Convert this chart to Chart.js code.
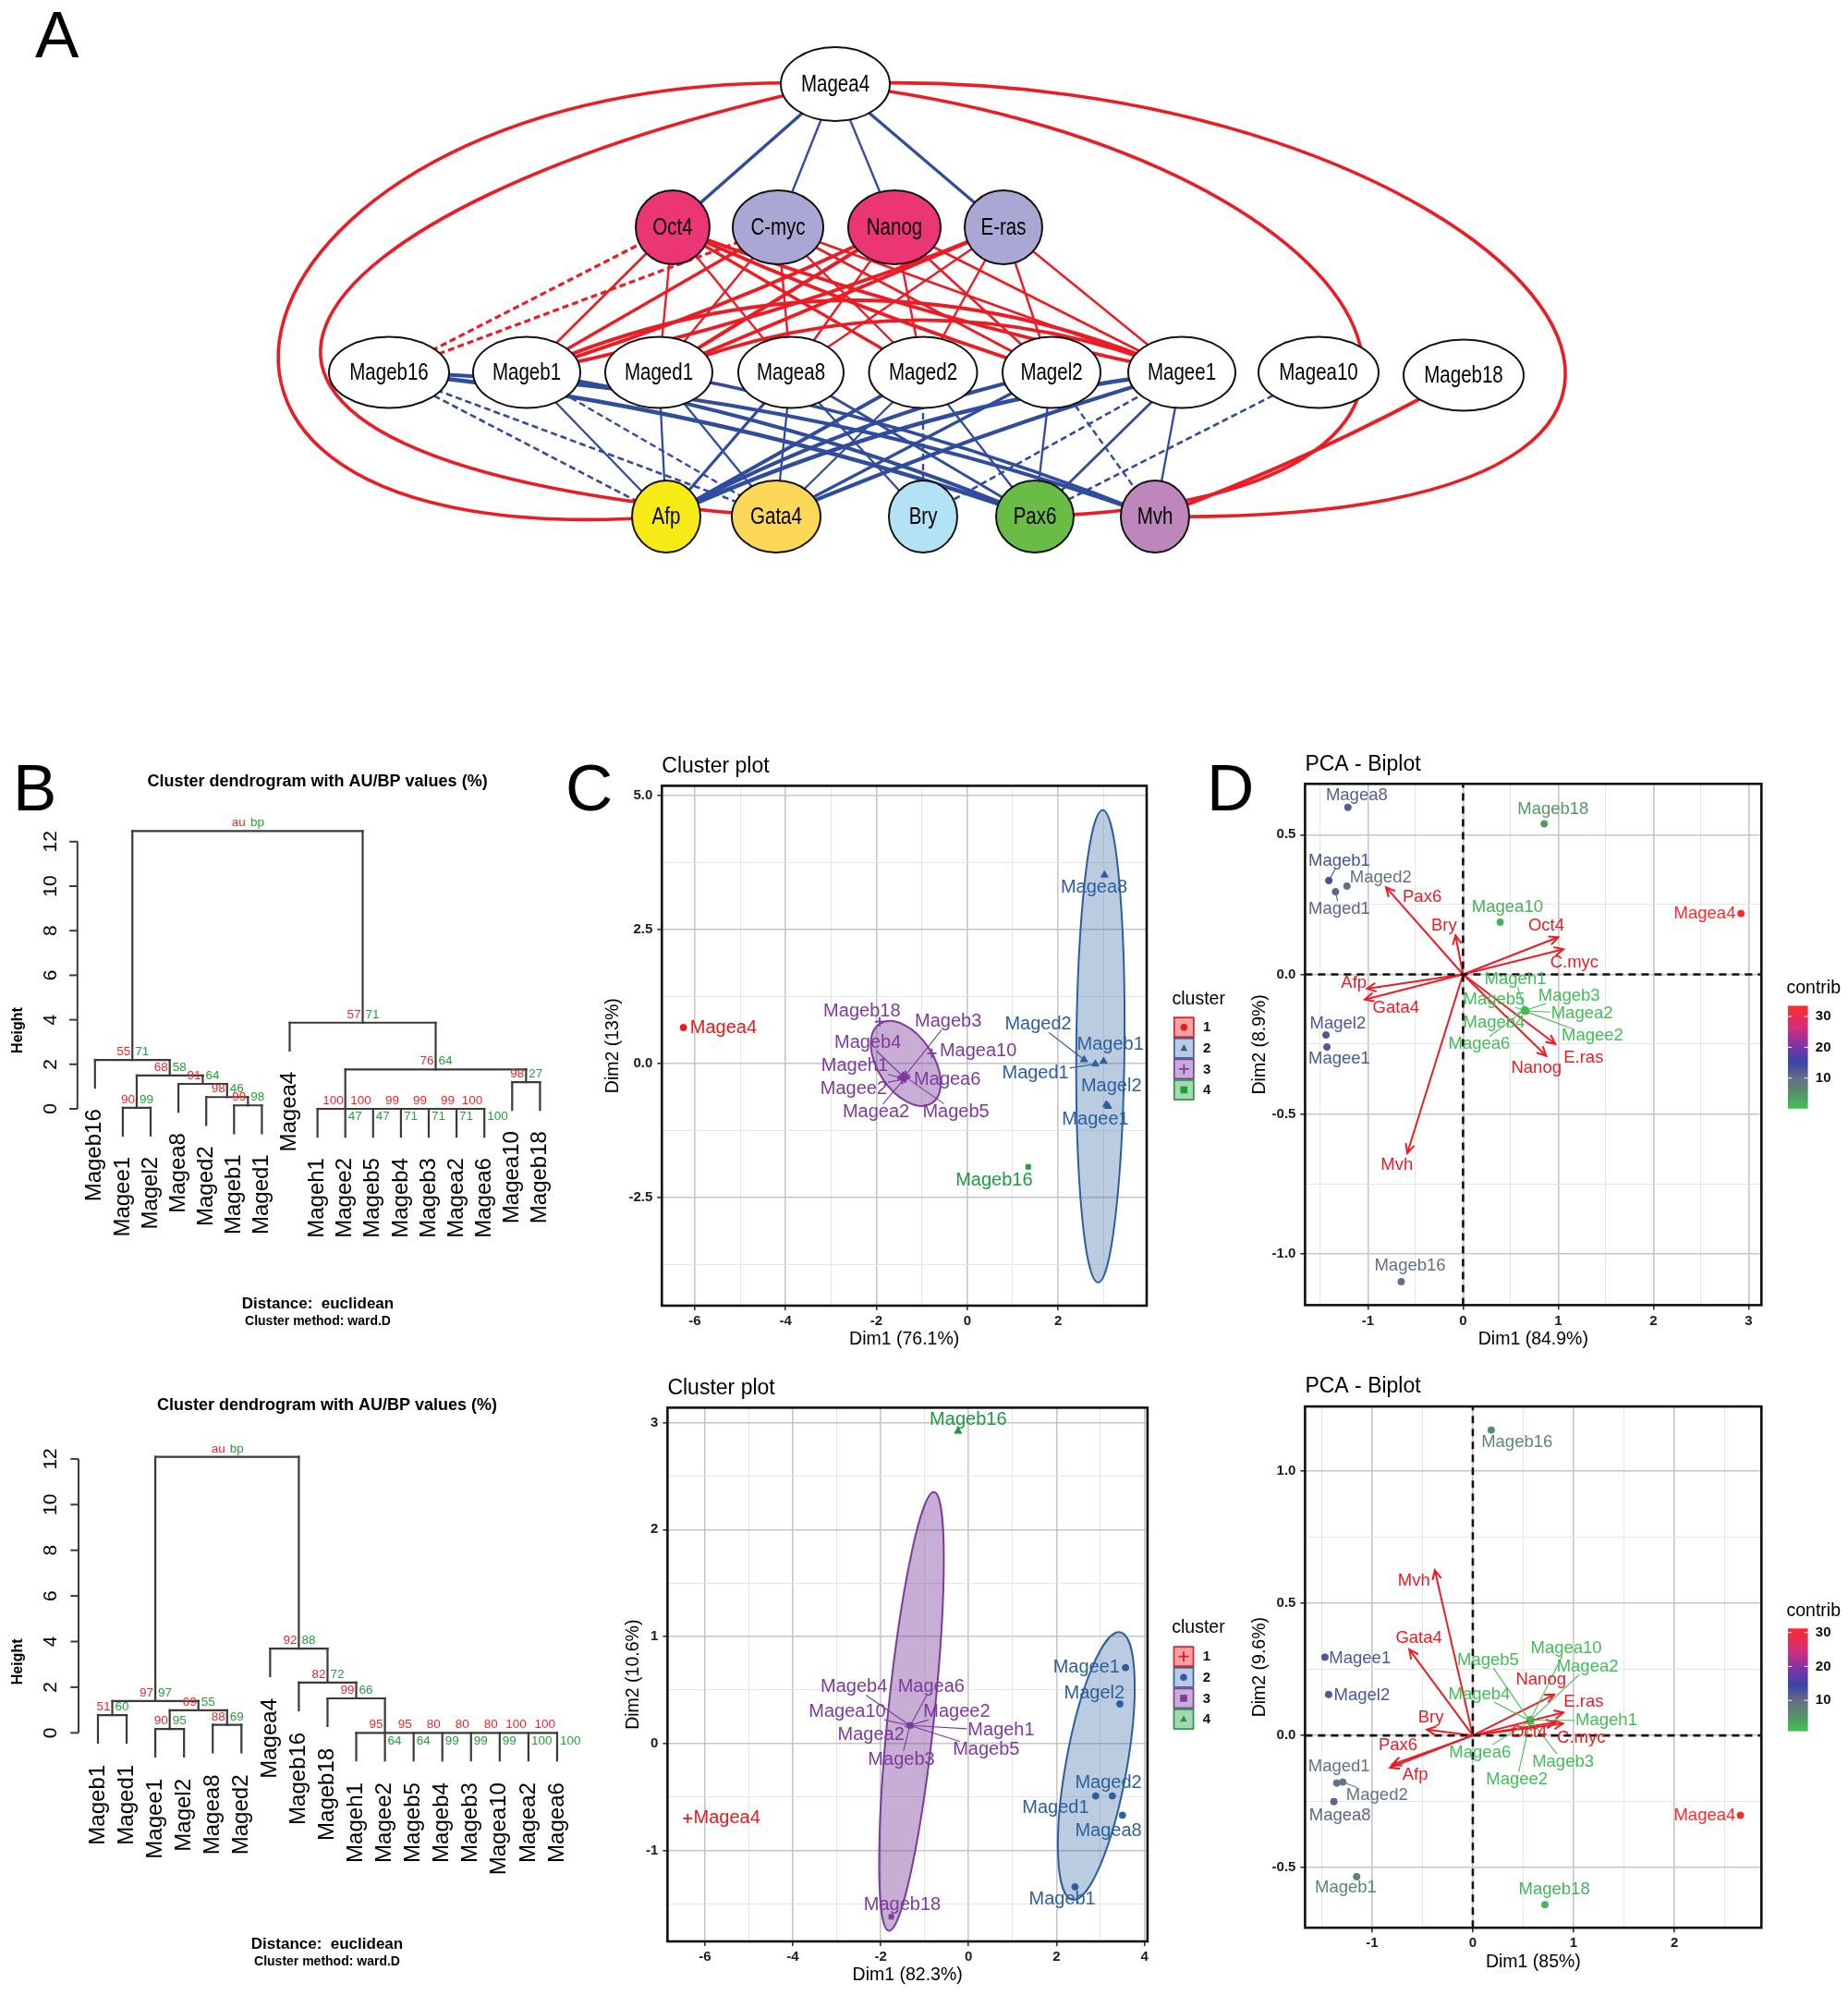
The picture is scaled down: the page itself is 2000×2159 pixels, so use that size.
<!DOCTYPE html>
<html><head><meta charset="utf-8">
<script src="https://cdn.jsdelivr.net/npm/chart.js@4.4.1/dist/chart.umd.min.js"></script>
<style>
html,body{margin:0;padding:0;background:#fff}
body{position:relative;width:2000px;height:2159px;overflow:hidden;font-family:'Liberation Sans',Arial,Helvetica,sans-serif}
canvas{position:absolute}
.lt{position:absolute;font-size:71px;line-height:71px;color:#000;font-family:'Liberation Sans',Arial,sans-serif}
</style></head><body>
<div class="lt" style="left:38px;top:2px">A</div>
<div class="lt" style="left:14px;top:817px">B</div>
<div class="lt" style="left:612px;top:817px">C</div>
<div class="lt" style="left:1306px;top:817px">D</div>
<canvas id="cA" width="2000" height="650" style="left:0;top:0"></canvas>
<canvas id="cB1" width="620" height="630" style="left:0;top:820px"></canvas>
<canvas id="cB2" width="640" height="669" style="left:0;top:1490px"></canvas>
<canvas id="cC1" width="700" height="655" style="left:640px;top:805px"></canvas>
<canvas id="cC2" width="700" height="674" style="left:640px;top:1485px"></canvas>
<canvas id="cD1" width="680" height="655" style="left:1320px;top:805px"></canvas>
<canvas id="cD2" width="680" height="674" style="left:1320px;top:1485px"></canvas>
<script>
const FONT = "'Liberation Sans', Arial, sans-serif";
Chart.defaults.font.family = FONT;

/* ================= DATA ================= */
// ---- Panel A: network (layout units) ----
const netNames = ['Magea4','Oct4','C-myc','Nanog','E-ras','Mageb16','Mageb1','Maged1','Magea8','Maged2','Magel2','Magee1','Magea10','Mageb18','Afp','Gata4','Bry','Pax6','Mvh'];
const netX = [904,728,842,968,1086,421,570,713,856,999,1138,1279,1427,1584,721,840,999,1120,1250];
const netY = [91,246,246,246,246,403,403,403,403,403,403,403,403,406,559,559,559,559,559];
// edges: from, to, sign (r = positive, b = negative), dashed, weight, curvature
const netEdges = [
 ['Magea4','Oct4','b',0,3.6,0],['Magea4','C-myc','b',0,2.3,0],['Magea4','Nanog','b',0,2.3,0],['Magea4','E-ras','b',0,3.2,0],
 ['Mageb16','Afp','b',1,2.6,0],['Mageb16','Gata4','b',1,2.6,0],['Mageb16','Pax6','b',0,4.3,-0.06],['Mageb16','Mvh','b',0,3.8,-0.08],
 ['Mageb1','Afp','b',0,2.3,0],['Mageb1','Gata4','b',1,2.4,0],['Mageb1','Pax6','b',0,4.3,-0.06],
 ['Maged1','Afp','b',0,2.3,0],['Maged1','Gata4','b',0,2.3,0],['Maged1','Mvh','b',0,3.4,-0.05],
 ['Magea8','Afp','b',0,3.2,0],['Magea8','Gata4','b',0,2.3,0],['Magea8','Bry','b',0,2.3,0],['Magea8','Pax6','b',0,2.8,0],
 ['Maged2','Afp','b',0,3.8,0],['Maged2','Gata4','b',0,2.3,0],['Maged2','Bry','b',1,2.4,0],['Maged2','Pax6','b',0,2.3,0],
 ['Magel2','Afp','b',0,4.3,-0.07],['Magel2','Gata4','b',0,3.2,0],['Magel2','Pax6','b',0,2.3,0],['Magel2','Mvh','b',1,2.4,0],
 ['Magee1','Afp','b',0,4.3,-0.08],['Magee1','Gata4','b',0,4.3,-0.03],['Magee1','Bry','b',1,2.6,0],['Magee1','Pax6','b',0,2.8,0],['Magee1','Mvh','b',0,2.3,0],
 ['Magea10','Pax6','b',1,2.6,0],
 ['Oct4','Mageb16','r',1,3.2,0],['C-myc','Mageb16','r',1,3.2,0],
 ['Oct4','Mageb1','r',0,2.6,0],['Oct4','Maged1','r',0,2.4,0],['Oct4','Magea8','r',0,2.4,0],['Oct4','Maged2','r',0,3.2,0],['Oct4','Magel2','r',0,4,0.03],['Oct4','Magee1','r',0,4,0.04],
 ['C-myc','Mageb1','r',0,3.4,0],['C-myc','Maged1','r',0,2.4,0],['C-myc','Magea8','r',0,2.4,0],['C-myc','Maged2','r',0,2.4,0],['C-myc','Magel2','r',0,3,0],['C-myc','Magee1','r',0,2.6,0],
 ['Nanog','Mageb1','r',0,4,0.04],['Nanog','Maged1','r',0,4,0],['Nanog','Magea8','r',0,2.4,0],['Nanog','Maged2','r',0,2.4,0],['Nanog','Magel2','r',0,2.6,0],['Nanog','Magee1','r',0,2.6,0],
 ['E-ras','Mageb1','r',0,4,0.05],['E-ras','Maged1','r',0,4,0],['E-ras','Magea8','r',0,2.4,0],['E-ras','Maged2','r',0,2.4,0],['E-ras','Magel2','r',0,2.4,0],['E-ras','Magee1','r',0,2.4,0],
 ['Mageb1','Magee1','r',0,4.2,-0.22],['Maged1','Magee1','r',0,3.6,-0.2],
 ['Mageb18','Mvh','r',0,3.8,0.04]
];
// long positive arcs from Magea4: from, to, control point 1 (x,y), control point 2 (x,y)
const netArcs = [
 ['Magea4','Afp',250,60,40,610],
 ['Magea4','Gata4',300,220,60,500],
 ['Magea4','Mvh',1620,60,2080,570],
 ['Magea4','Pax6',1500,160,1720,540]
];

// ---- Panel B: dendrograms ----
const dendroTicks = [0,2,4,6,8,10,12];
const dendroTopLeaves = ['Mageb16','Magee1','Magel2','Magea8','Maged2','Mageb1','Maged1','Magea4','Mageh1','Magee2','Mageb5','Mageb4','Mageb3','Magea2','Magea6','Magea10','Mageb18'];
const dendroTopMerges = [[5,6],[4,'m0'],[3,'m1'],[1,2],['m3','m2'],[0,'m4'],[8,9,10,11,12,13,14],[15,16],['m6','m7'],[7,'m8'],['m5','m9']];
const dendroTopHeights = [0.155,0.53,1.12,0.05,1.50,2.19,0.0,1.20,1.77,3.87,12.47];
const dendroTopAU = [99,98,91,90,68,55,[100,100,99,99,99,100],98,76,57,'au'];
const dendroTopBP = [98,46,64,99,58,71,[47,47,71,71,71,100],27,64,71,'bp'];

const dendroBotLeaves = ['Mageb1','Maged1','Magee1','Magel2','Magea8','Maged2','Magea4','Mageb16','Mageb18','Mageh1','Magee2','Mageb5','Mageb4','Mageb3','Magea10','Magea2','Magea6'];
const dendroBotMerges = [[0,1],[2,3],[4,5],['m1','m2'],['m0','m3'],[9,10,11,12,13,14,15,16],[8,'m5'],[7,'m6'],[6,'m7'],['m4','m8']];
const dendroBotHeights = [0.78,0.17,0.35,0.99,1.39,0.0,1.51,2.20,3.69,12.09];
const dendroBotAU = [51,90,88,69,97,[95,95,80,80,80,100,100],99,82,92,'au'];
const dendroBotBP = [60,95,69,55,97,[64,64,99,99,99,100,100],66,72,88,'bp'];

// ---- Panel C (top): cluster plot ----
const c1Names = ['Magea4','Magea8','Mageb1','Maged2','Maged1','Magel2','Magee1','Mageb18','Mageb3','Mageb4','Magea10','Mageh1','Magea6','Magee2','Magea2','Mageb5','Mageb16'];
const c1Cluster = [1,2,2,2,2,2,2,3,3,3,3,3,3,3,3,3,4];
const c1X = [-6.25,3.02,3.00,2.57,2.82,3.06,3.10,-1.93,-1.36,-1.42,-0.78,-1.44,-1.40,-1.43,-1.38,-1.35,1.34];
const c1Y = [0.67,3.52,0.04,0.07,-0.01,-0.77,-0.80,0.78,-0.22,-0.24,0.19,-0.27,-0.25,-0.30,-0.28,-0.26,-1.93];
const c1LabX = [-5.37,2.79,3.15,1.56,1.50,3.17,2.82,-2.32,-0.42,-2.19,0.24,-2.48,-0.44,-2.50,-2.01,-0.25,0.59];
const c1LabY = [0.67,3.29,0.36,0.73,-0.19,-0.43,-1.04,0.97,0.78,0.39,0.23,-0.05,-0.30,-0.47,-0.91,-0.91,-2.19];
const c1Seg = [0,0,0,1,1,0,0,0,1,1,0,1,0,1,1,1,0];
const c1XTicks = [-6,-5,-4,-3,-2,-1,0,1,2,3];
const c1YTicks = [-3.75,-2.5,-1.25,0,1.25,2.5,3.75,5];
const c1EllCluster = [3,2];
const c1EllC = [[-1.355,0.0],[2.93,0.32]];
const c1EllU = [[0.575,-0.74],[0.05,4.41]];
const c1EllV = [[0.51,0.285],[0.53,0.0]];

// ---- Panel C (bottom) ----
const c2Names = ['Magea4','Mageb16','Mageb18','Mageb4','Magea6','Magea10','Magee2','Mageh1','Magea2','Mageb5','Mageb3','Magee1','Magel2','Maged2','Maged1','Magea8','Mageb1'];
const c2Cluster = [1,4,3,3,3,3,3,3,3,3,3,2,2,2,2,2,2];
const c2X = [-6.39,-0.24,-1.76,-1.34,-1.32,-1.335,-1.325,-1.33,-1.335,-1.328,-1.332,3.57,3.44,3.27,2.89,3.50,2.42];
const c2Y = [-0.70,2.92,-1.62,0.17,0.172,0.168,0.171,0.169,0.17,0.167,0.173,0.71,0.37,-0.49,-0.49,-0.67,-1.34];
const c2LabX = [-5.50,-0.01,-1.51,-2.61,-0.85,-2.76,-0.27,0.74,-2.22,0.40,-1.53,2.68,2.86,3.18,1.98,3.18,2.13];
const c2LabY = [-0.70,3.03,-1.51,0.53,0.53,0.30,0.30,0.12,0.08,-0.06,-0.15,0.71,0.47,-0.37,-0.60,-0.82,-1.46];
const c2Seg = [0,0,0,1,1,1,1,1,1,1,1,0,0,0,0,0,0];
const c2XTicks = [-6,-5,-4,-3,-2,-1,0,1,2,3,4];
const c2YTicks = [-1.5,-1,-0.5,0,0.5,1,1.5,2,2.5,3];
const c2EllCluster = [3,2];
const c2EllC = [[-1.30,0.30],[2.905,-0.21]];
const c2EllU = [[0.515,2.05],[0.545,1.25]];
const c2EllV = [[0.525,-0.02],[0.683,-0.05]];

// ---- Panel D (top): PCA biplot ----
const d1Ind = ['Magea4','Magea8','Mageb18','Mageb1','Maged2','Maged1','Magea10','Magel2','Magee1','Mageb16','Mageh1','Mageb5','Mageb3','Magea2','Magee2','Mageb4','Magea6'];
const d1IndX = [2.92,-1.21,0.853,-1.41,-1.22,-1.34,0.39,-1.44,-1.43,-0.65,0.645,0.648,0.655,0.66,0.652,0.646,0.65];
const d1IndY = [0.218,0.598,0.539,0.336,0.316,0.296,0.187,-0.217,-0.26,-1.10,-0.128,-0.13,-0.129,-0.131,-0.132,-0.13,-0.127];
const d1Contrib = [33.45,11.8,4.4,13.4,9,11,2.1,12.7,12.7,9.4,0.8,0.8,0.8,0.8,0.8,0.8,0.8];
const d1IndLabX = [2.54,-1.117,0.946,-1.30,-0.865,-1.30,0.466,-1.316,-1.30,-0.557,0.55,0.326,1.115,1.25,1.36,0.326,0.17];
const d1IndLabY = [0.218,0.641,0.59,0.404,0.345,0.234,0.241,-0.178,-0.303,-1.045,-0.017,-0.09,-0.077,-0.14,-0.221,-0.173,-0.25];
const d1IndSeg = [0,0,0,1,0,1,0,0,0,0,1,1,1,1,1,1,1];
const d1Var = ['Pax6','Bry','Oct4','C.myc','Afp','Gata4','E.ras','Nanog','Mvh'];
const d1VarX = [-0.81,-0.08,1.0,1.055,-1.01,-1.033,0.97,0.874,-0.586];
const d1VarY = [0.312,0.14,0.133,0.09,-0.051,-0.09,-0.249,-0.292,-0.64];
const d1VarLabX = [-0.43,-0.20,0.874,1.17,-1.147,-0.705,1.266,0.77,-0.696];
const d1VarLabY = [0.277,0.175,0.174,0.043,-0.03,-0.122,-0.30,-0.334,-0.682];
const d1XTicks = [-1.5,-1,-0.5,0,0.5,1,1.5,2,2.5,3];
const d1YTicks = [-1,-0.75,-0.5,-0.25,0,0.25,0.5];
const d1ContribRange = [0.1,33.45];
const d1ContribTicks = [10,20,30];

// ---- Panel D (bottom) ----
const d2Ind = ['Magea4','Mageb16','Magee1','Magel2','Maged1','Maged2','Magea8','Mageb1','Mageb18','Magea10','Mageb5','Magea2','Mageb4','Mageh1','Magea6','Mageb3','Magee2'];
const d2IndX = [2.655,0.183,-1.467,-1.43,-1.35,-1.29,-1.378,-1.152,0.716,0.572,0.566,0.574,0.565,0.571,0.567,0.57,0.568];
const d2IndY = [-0.302,1.155,0.296,0.155,-0.18,-0.176,-0.25,-0.534,-0.64,0.06,0.055,0.058,0.056,0.057,0.054,0.059,0.055];
const d2Contrib = [31.2,6,12.4,12.4,9,9,10.9,7,2.4,1.5,1.5,1.5,1.5,1.5,1.5,1.5,1.5];
const d2IndLabX = [2.30,0.438,-1.12,-1.10,-1.327,-0.95,-1.318,-1.26,0.808,0.927,0.151,1.138,0.064,1.325,0.072,0.895,0.438];
const d2IndLabY = [-0.302,1.107,0.29,0.15,-0.117,-0.226,-0.302,-0.577,-0.584,0.33,0.284,0.26,0.155,0.057,-0.064,-0.099,-0.167];
const d2IndSeg = [0,0,0,0,0,1,0,0,0,1,1,1,1,1,1,1,1];
const d2Var = ['Mvh','Gata4','Bry','Pax6','Afp','Nanog','E.ras','C.myc','Oct4'];
const d2VarX = [-0.377,-0.63,-0.456,-0.80,-0.822,0.808,0.899,0.895,0.82];
const d2VarY = [0.625,0.325,0.022,-0.11,-0.122,0.155,0.087,0.045,0.049];
const d2VarLabX = [-0.583,-0.535,-0.416,-0.742,-0.571,0.676,1.10,1.075,0.557];
const d2VarLabY = [0.584,0.368,0.067,-0.037,-0.148,0.211,0.128,-0.011,0.012];
const d2XTicks = [-1.5,-1,-0.5,0,0.5,1,1.5,2,2.5];
const d2YTicks = [-0.5,-0.25,0,0.25,0.5,0.75,1];
const d2ContribRange = [0.9,31.2];
const d2ContribTicks = [10,20,30];

/* ================= STYLE HELPERS ================= */
const RED = '#EC1C24', BLUE = '#2F4C9E';
const clusterColors = ['#E41A1C','#2D5F9E','#7D3B9B','#1F9B3F'];
const clusterAlpha = [0.4,0.32,0.42,0.4];
const contribStops = [[0,'#40C454'],[0.15,'#57906A'],[0.3,'#656C88'],[0.45,'#3844A8'],[0.6,'#7A34A8'],[0.78,'#D02E7E'],[1,'#FF2A2A']];
function hexRgb(h){return [parseInt(h.slice(1,3),16),parseInt(h.slice(3,5),16),parseInt(h.slice(5,7),16)];}
function hexA(h,a){const c=hexRgb(h);return `rgba(${c[0]},${c[1]},${c[2]},${a})`;}
function contribColorF(f){
  f=Math.max(0,Math.min(1,f));
  for(let i=1;i<contribStops.length;i++){
    if(f<=contribStops[i][0]){
      const [f0,c0]=contribStops[i-1],[f1,c1]=contribStops[i];
      const t=(f-f0)/(f1-f0), a=hexRgb(c0), b=hexRgb(c1);
      return `rgb(${a.map((x,j)=>Math.round(x+(b[j]-x)*t)).join(',')})`;
    }
  }
  return contribStops[contribStops.length-1][1];
}
function baseOpts(){return {responsive:false,animation:false,devicePixelRatio:1,events:[],plugins:{legend:{display:false},tooltip:{enabled:false}}};}
function near(v,step){return Math.abs(v/step-Math.round(v/step))<1e-9;}
function axisCfg(min,max,ticks,majorStep,fmt,fit,isX){
  const maj=c=>c.tick?near(c.tick.value,majorStep):true;
  return {type:'linear',min,max,
    afterBuildTicks:s=>{s.ticks=ticks.map(v=>({value:v}));},
    ticks:{autoSkip:false,maxRotation:0,minRotation:0,padding:isX?3:5,color:'#1c1c1c',font:{size:15,weight:'bold'},
      callback:v=>near(v,majorStep)?fmt(v):''},
    grid:{color:c=>maj(c)?'#c6c6c6':'#e6e6e6',lineWidth:c=>maj(c)?1.6:1.1,
      tickColor:c=>maj(c)?'#333':'rgba(0,0,0,0)',tickLength:5,drawTicks:true},
    border:{display:false},
    afterFit:s=>{if(isX)s.height=fit;else s.width=fit;}
  };
}
function drawShape(ctx,shape,x,y,r,col){
  ctx.save();ctx.fillStyle=col;ctx.strokeStyle=col;ctx.lineWidth=1.8;ctx.beginPath();
  if(shape==='circle'){ctx.arc(x,y,r,0,Math.PI*2);ctx.fill();}
  else if(shape==='rect'){ctx.fillRect(x-r,y-r,2*r,2*r);}
  else if(shape==='triangle'){ctx.moveTo(x,y-r*1.15);ctx.lineTo(x+r,y+r*0.75);ctx.lineTo(x-r,y+r*0.75);ctx.closePath();ctx.fill();}
  else if(shape==='cross'){ctx.moveTo(x-r,y);ctx.lineTo(x+r,y);ctx.moveTo(x,y-r);ctx.lineTo(x,y+r);ctx.stroke();}
  ctx.restore();
}
function drawLabels(ctx,xs,ys,names,X,Y,LX,LY,SEG,colors,fontPx){
  ctx.font=`${fontPx}px ${FONT}`;ctx.textAlign='center';ctx.textBaseline='middle';
  names.forEach((n,i)=>{
    const lx=xs.getPixelForValue(LX[i]), ly=ys.getPixelForValue(LY[i]), col=colors[i];
    if(SEG[i]){
      const px=xs.getPixelForValue(X[i]), py=ys.getPixelForValue(Y[i]);
      const w=ctx.measureText(n).width/2+1, h=fontPx*0.45;
      const dx=px-lx, dy=py-ly;
      const t=Math.min(Math.abs(dx)>1e-6?w/Math.abs(dx):Infinity,Math.abs(dy)>1e-6?h/Math.abs(dy):Infinity);
      if(t<1){ctx.strokeStyle=col;ctx.lineWidth=1.1;ctx.beginPath();ctx.moveTo(lx+dx*t,ly+dy*t);ctx.lineTo(px,py);ctx.stroke();}
    }
    ctx.fillStyle=col;ctx.fillText(n,lx,ly);
  });
}
function drawFrameTitles(ctx,ca,title,xt,yt,yOff){
  ctx.save();
  ctx.strokeStyle='#111';ctx.lineWidth=2.6;ctx.strokeRect(ca.left,ca.top,ca.right-ca.left,ca.bottom-ca.top);
  ctx.fillStyle='#000';ctx.font=`23px ${FONT}`;ctx.textAlign='left';ctx.textBaseline='middle';
  ctx.fillText(title,ca.left,ca.top-21);
  ctx.font=`19.5px ${FONT}`;ctx.textAlign='center';
  ctx.fillText(xt,(ca.left+ca.right)/2,ca.bottom+37);
  ctx.translate(ca.left-yOff,(ca.top+ca.bottom)/2);ctx.rotate(-Math.PI/2);ctx.fillText(yt,0,0);
  ctx.restore();
}

/* ================= PANEL A ================= */
const netRx = [59,40,49,50,42,65,58,58,57,58.5,53,58,65,65,37,48,37,42,37];
const netRy = [40,40,40,40,40,38.5,38.5,38.5,38.5,38.5,38.5,38.5,38.5,38.5,39,39,39,39,39];
const netFill = ['#ffffff','#EC3575','#ABA7D4','#EC3575','#ABA7D4','#ffffff','#ffffff','#ffffff','#ffffff','#ffffff','#ffffff','#ffffff','#ffffff','#ffffff','#F6EB16','#FDD757','#B3E2F5','#69BC45','#BD87BC'];
const netPlugin = {
  id:'net',
  beforeDatasetsDraw(chart){
    const {ctx,scales:{x,y}}=chart;
    const P=n=>{const i=netNames.indexOf(n);return [x.getPixelForValue(netX[i]),y.getPixelForValue(netY[i])];};
    ctx.save();ctx.lineCap='butt';
    const drawEdge=e=>{
      const [a,b,c,dash,w,bend]=e;const p=P(a),q=P(b);
      const mx=(p[0]+q[0])/2,my=(p[1]+q[1])/2,dx=q[0]-p[0],dy=q[1]-p[1],len=Math.hypot(dx,dy);
      let nx=-dy/len,ny=dx/len;if(ny<0||(ny===0&&nx<0)){nx=-nx;ny=-ny;}
      ctx.beginPath();ctx.moveTo(p[0],p[1]);
      if(bend)ctx.quadraticCurveTo(mx+nx*bend*len,my+ny*bend*len,q[0],q[1]);else ctx.lineTo(q[0],q[1]);
      ctx.strokeStyle=c==='r'?RED:BLUE;ctx.lineWidth=w;ctx.setLineDash(dash?[7,4]:[]);ctx.stroke();
    };
    netEdges.filter(e=>e[2]==='b').forEach(drawEdge);
    netEdges.filter(e=>e[2]==='r').forEach(drawEdge);
    ctx.setLineDash([]);
    netArcs.forEach(a=>{
      const p=P(a[0]),q=P(a[1]);
      ctx.beginPath();ctx.moveTo(p[0],p[1]);
      ctx.bezierCurveTo(x.getPixelForValue(a[2]),y.getPixelForValue(a[3]),x.getPixelForValue(a[4]),y.getPixelForValue(a[5]),q[0],q[1]);
      ctx.strokeStyle=RED;ctx.lineWidth=3.6;ctx.stroke();
    });
    ctx.restore();
  },
  afterDatasetsDraw(chart){
    const {ctx,scales:{x,y}}=chart;
    ctx.save();
    netNames.forEach((n,i)=>{
      const px=x.getPixelForValue(netX[i]),py=y.getPixelForValue(netY[i]);
      ctx.beginPath();ctx.ellipse(px,py,netRx[i],netRy[i],0,0,Math.PI*2);
      ctx.fillStyle=netFill[i];ctx.fill();ctx.strokeStyle='#111';ctx.lineWidth=2;ctx.stroke();
      ctx.save();ctx.translate(px,py+1);ctx.scale(0.82,1);
      ctx.fillStyle='#000';ctx.font=`25px ${FONT}`;ctx.textAlign='center';ctx.textBaseline='middle';
      ctx.fillText(n,0,0);ctx.restore();
    });
    ctx.restore();
  }
};
new Chart(document.getElementById('cA'),{
  type:'scatter',
  data:{datasets:[{data:netNames.map((n,i)=>({x:netX[i],y:netY[i]})),pointRadius:0}]},
  options:Object.assign(baseOpts(),{layout:{padding:0},
    scales:{x:{type:'linear',display:false,min:0,max:2000},y:{type:'linear',display:false,min:0,max:650,reverse:true}}}),
  plugins:[netPlugin]
});

/* ================= PANEL B ================= */
function dendroChart(id,leaves,merges,heights,AU,BP,L){
  const hang=0.1*Math.max(...heights);
  const pos=[],leafBottom=[],datasets=[],nodeLabels=[];
  const refX=r=>typeof r==='number'?r:pos[+r.slice(1)];
  const refH=(r,h)=>typeof r==='number'?h-hang:heights[+r.slice(1)];
  const seg=(a,b)=>datasets.push({data:[{x:a[0],y:a[1]},{x:b[0],y:b[1]}],showLine:true,borderColor:'#3a3a3a',borderWidth:2.2,pointRadius:0,borderCapStyle:'square'});
  merges.forEach((ch,k)=>{
    const h=heights[k],xs=ch.map(refX);
    pos[k]=ch.length===2?(xs[0]+xs[1])/2:xs[1];
    seg([xs[0],h],[xs[xs.length-1],h]);
    ch.forEach((c,j)=>{const hb=refH(c,h);if(typeof c==='number')leafBottom[c]=hb;seg([xs[j],h],[xs[j],hb]);});
    if(ch.length===2)nodeLabels.push({x:pos[k],h,au:AU[k],bp:BP[k],flat:false});
    else xs.slice(1).forEach((xx,j)=>nodeLabels.push({x:xx,h,au:AU[k][j],bp:BP[k][j],flat:true}));
  });
  const plug={
    id:'dendro'+id,
    afterDatasetsDraw(chart){
      const {ctx,scales:{x,y}}=chart;
      ctx.save();ctx.fillStyle='#000';
      ctx.font=`bold 18px ${FONT}`;ctx.textAlign='center';ctx.textBaseline='middle';
      ctx.fillText('Cluster dendrogram with AU/BP values (%)',L.titleX,L.titleY);
      ctx.strokeStyle='#3a3a3a';ctx.lineWidth=2;
      ctx.beginPath();ctx.moveTo(L.axisX,y.getPixelForValue(0));ctx.lineTo(L.axisX,y.getPixelForValue(12));ctx.stroke();
      ctx.font=`21px ${FONT}`;
      dendroTicks.forEach(t=>{
        const py=y.getPixelForValue(t);
        ctx.beginPath();ctx.moveTo(L.axisX,py);ctx.lineTo(L.axisX-8.7,py);ctx.stroke();
        ctx.save();ctx.translate(L.tickLabX,py);ctx.rotate(-Math.PI/2);ctx.fillText(String(t),0,0);ctx.restore();
      });
      ctx.save();ctx.font=`bold 16px ${FONT}`;ctx.translate(L.hLabX,L.hLabY);ctx.rotate(-Math.PI/2);ctx.fillText('Height',0,0);ctx.restore();
      ctx.font=`24px ${FONT}`;
      leaves.forEach((nm,i)=>{
        const px=x.getPixelForValue(i),py=y.getPixelForValue(leafBottom[i])+L.gap;
        ctx.save();ctx.translate(px,py);ctx.rotate(-Math.PI/2);ctx.textAlign='right';ctx.textBaseline='middle';ctx.fillText(nm,0,0);ctx.restore();
      });
      ctx.font=`13.5px ${FONT}`;
      nodeLabels.forEach(n=>{
        const px=x.getPixelForValue(n.x),py=y.getPixelForValue(n.h);
        ctx.fillStyle='#F2262A';ctx.textAlign='right';ctx.textBaseline='bottom';ctx.fillText(String(n.au),px-2,py-2);
        ctx.fillStyle='#25A038';ctx.textAlign='left';
        if(n.flat){ctx.textBaseline='top';ctx.fillText(String(n.bp),px+3,py+2);}
        else ctx.fillText(String(n.bp),px+3,py-2);
      });
      ctx.fillStyle='#000';ctx.textAlign='center';ctx.textBaseline='middle';
      ctx.font=`bold 17px ${FONT}`;ctx.fillText('Distance:  euclidean',L.footX,L.foot1Y);
      ctx.font=`bold 14px ${FONT}`;ctx.fillText('Cluster method: ward.D',L.footX,L.foot2Y);
      ctx.restore();
    }
  };
  new Chart(document.getElementById(id),{
    type:'scatter',data:{datasets},
    options:Object.assign(baseOpts(),{layout:{padding:L.pad},
      scales:{x:{type:'linear',display:false,min:-1,max:17},y:{type:'linear',display:false,min:-6,max:13}}}),
    plugins:[plug]
  });
}
dendroChart('cB1',dendroTopLeaves,dendroTopMerges,dendroTopHeights,dendroTopAU,dendroTopBP,
  {pad:{left:72.7,right:5.5,top:66.7,bottom:105.4},titleX:343.6,titleY:25.6,axisX:83.8,tickLabX:55.4,hLabX:19.8,hLabY:295,gap:23,footX:344,foot1Y:591.5,foot2Y:610.2});
dendroChart('cB2',dendroBotLeaves,dendroBotMerges,dendroBotHeights,dendroBotAU,dendroBotBP,
  {pad:{left:74.94,right:6,top:64.2,bottom:135.5},titleX:354,titleY:31.5,axisX:85,tickLabX:55.4,hLabX:19.8,hLabY:308.4,gap:24,footX:354,foot1Y:614.8,foot2Y:633});

/* ================= PANEL C ================= */
function clusterChart(id,d){
  const datasets=[1,2,3,4].map(k=>{
    const pts=d.names.map((n,i)=>({x:d.X[i],y:d.Y[i],c:d.cl[i]})).filter(p=>p.c===k);
    const sh=d.shapes[k-1];
    return {data:pts,pointStyle:sh,pointRadius:d.sizes[k-1],pointBackgroundColor:clusterColors[k-1],pointBorderColor:clusterColors[k-1],pointBorderWidth:sh==='cross'?1.8:1,showLine:false};
  });
  const colors=d.names.map((n,i)=>clusterColors[d.cl[i]-1]);
  const plug={
    id:'cl'+id,
    beforeDatasetsDraw(chart){
      const {ctx,scales:{x,y}}=chart;ctx.save();
      d.ellCl.forEach((k,j)=>{
        const col=clusterColors[k-1],c=d.ellC[j],u=d.ellU[j],v=d.ellV[j];
        const cx=x.getPixelForValue(c[0]),cy=y.getPixelForValue(c[1]);
        const ux=x.getPixelForValue(c[0]+u[0])-cx,uy=y.getPixelForValue(c[1]+u[1])-cy;
        const vx=x.getPixelForValue(c[0]+v[0])-cx,vy=y.getPixelForValue(c[1]+v[1])-cy;
        ctx.save();ctx.beginPath();ctx.transform(ux,uy,vx,vy,cx,cy);ctx.arc(0,0,1,0,Math.PI*2);ctx.restore();
        ctx.fillStyle=hexA(col,clusterAlpha[k-1]);ctx.fill();ctx.strokeStyle=col;ctx.lineWidth=2;ctx.stroke();
      });
      ctx.restore();
    },
    afterDatasetsDraw(chart){
      const {ctx,scales:{x,y},chartArea:ca}=chart;ctx.save();
      drawLabels(ctx,x,y,d.names,d.X,d.Y,d.LX,d.LY,d.seg,colors,20);
      drawFrameTitles(ctx,ca,'Cluster plot',d.xTitle,d.yTitle,d.yTitleOff);
      const lx=ca.right+d.leg.dx;
      ctx.fillStyle='#000';ctx.font=`19.5px ${FONT}`;ctx.textAlign='left';ctx.textBaseline='middle';
      ctx.fillText('cluster',lx-1.5,ca.top+d.leg.titleDy);
      for(let k=0;k<4;k++){
        const by=ca.top+d.leg.keyDy+k*22.6,col=clusterColors[k];
        ctx.fillStyle=hexA(col,clusterAlpha[k]);ctx.fillRect(lx,by,22.6,22.6);
        ctx.strokeStyle=col;ctx.lineWidth=1.6;ctx.strokeRect(lx+0.8,by+0.8,21,21);
        drawShape(ctx,d.shapes[k],lx+11.3,by+11.3,d.shapes[k]==='cross'?5.5:3.8,col);
        ctx.fillStyle='#111';ctx.font=`bold 15px ${FONT}`;ctx.textAlign='left';ctx.textBaseline='middle';
        ctx.fillText(String(k+1),lx+32,by+11.8);
      }
      ctx.restore();
    }
  };
  new Chart(document.getElementById(id),{
    type:'scatter',data:{datasets},
    options:Object.assign(baseOpts(),{layout:{padding:{top:d.pad.top,right:d.pad.right,left:0,bottom:0}},
      scales:{x:axisCfg(d.xr[0],d.xr[1],d.xt,d.xMaj,v=>String(v),d.xFit,true),
              y:axisCfg(d.yr[0],d.yr[1],d.yt,d.yMaj,d.yFmt,d.yFit,false)}}),
    plugins:[plug]
  });
}
clusterChart('cC1',{names:c1Names,cl:c1Cluster,X:c1X,Y:c1Y,LX:c1LabX,LY:c1LabY,seg:c1Seg,
  ellCl:c1EllCluster,ellC:c1EllC,ellU:c1EllU,ellV:c1EllV,
  shapes:['circle','triangle','cross','rect'],sizes:[3.5,4.5,5,3.5],
  xr:[-6.724,3.949],yr:[-4.524,5.185],xt:c1XTicks,yt:c1YTicks,xMaj:2,yMaj:2.5,yFmt:v=>v.toFixed(1),
  pad:{top:45.4,right:99},xFit:47,yFit:76.3,xTitle:'Dim1 (76.1%)',yTitle:'Dim2 (13%)',yTitleOff:52.4,
  leg:{dx:29,titleDy:231.6,keyDy:250}});
clusterChart('cC2',{names:c2Names,cl:c2Cluster,X:c2X,Y:c2Y,LX:c2LabX,LY:c2LabY,seg:c2Seg,
  ellCl:c2EllCluster,ellC:c2EllC,ellU:c2EllU,ellV:c2EllV,
  shapes:['cross','circle','rect','triangle'],sizes:[5,3.5,3.5,4.5],
  xr:[-6.85,4.07],yr:[-1.85,3.14],xt:c2XTicks,yt:c2YTicks,xMaj:2,yMaj:1,yFmt:v=>String(v),
  pad:{top:38.4,right:98.1},xFit:58,yFit:82.4,xTitle:'Dim1 (82.3%)',yTitle:'Dim2 (10.6%)',yTitleOff:36.9,
  leg:{dx:27.8,titleDy:238.5,keyDy:258}});

/* ================= PANEL D ================= */
function biplotChart(id,d){
  const [lo,hi]=d.range;
  const colors=d.contrib.map(v=>contribColorF((v-lo)/(hi-lo)));
  const datasets=[
    {data:[{x:0,y:d.yr[0]},{x:0,y:d.yr[1]}],showLine:true,borderColor:'#111',borderWidth:2.6,borderDash:[8,6],pointRadius:0},
    {data:[{x:d.xr[0],y:0},{x:d.xr[1],y:0}],showLine:true,borderColor:'#111',borderWidth:2.6,borderDash:[8,6],pointRadius:0}
  ];
  d.vars.forEach((v,i)=>datasets.push({data:[{x:0,y:0},{x:d.vx[i],y:d.vy[i]}],showLine:true,borderColor:RED,borderWidth:2,pointRadius:0}));
  datasets.push({data:d.ind.map((n,i)=>({x:d.X[i],y:d.Y[i]})),pointRadius:3.6,pointBackgroundColor:colors,pointBorderColor:colors,showLine:false});
  const plug={
    id:'bp'+id,
    afterDatasetsDraw(chart){
      const {ctx,scales:{x,y},chartArea:ca}=chart;ctx.save();
      const ox=x.getPixelForValue(0),oy=y.getPixelForValue(0);
      ctx.strokeStyle=RED;ctx.lineWidth=2;
      d.vars.forEach((v,i)=>{
        const px=x.getPixelForValue(d.vx[i]),py=y.getPixelForValue(d.vy[i]);
        const ang=Math.atan2(py-oy,px-ox),L=11,a=Math.PI/7;
        ctx.beginPath();ctx.moveTo(px-L*Math.cos(ang-a),py-L*Math.sin(ang-a));ctx.lineTo(px,py);
        ctx.lineTo(px-L*Math.cos(ang+a),py-L*Math.sin(ang+a));ctx.stroke();
      });
      drawLabels(ctx,x,y,d.ind,d.X,d.Y,d.ILX,d.ILY,d.iseg,colors,18.5);
      drawLabels(ctx,x,y,d.vars,d.vx,d.vy,d.VLX,d.VLY,d.vars.map(()=>0),d.vars.map(()=>RED),18.5);
      drawFrameTitles(ctx,ca,'PCA - Biplot',d.xTitle,d.yTitle,49);
      const bx=ca.right+28.7,btop=ca.top+240.2,bh=111.3,bw=21.6;
      ctx.fillStyle='#000';ctx.font=`19.5px ${FONT}`;ctx.textAlign='left';ctx.textBaseline='middle';
      ctx.fillText('contrib',bx-1.5,ca.top+221.7);
      const g=ctx.createLinearGradient(0,btop+bh,0,btop);
      contribStops.forEach(s=>g.addColorStop(s[0],s[1]));
      ctx.fillStyle=g;ctx.fillRect(bx,btop,bw,bh);
      ctx.font=`bold 15px ${FONT}`;
      d.cticks.forEach(t=>{
        const py=btop+(hi-t)/(hi-lo)*bh;
        ctx.strokeStyle='#fff';ctx.lineWidth=1;ctx.beginPath();
        ctx.moveTo(bx,py);ctx.lineTo(bx+4,py);ctx.moveTo(bx+bw-4,py);ctx.lineTo(bx+bw,py);ctx.stroke();
        ctx.fillStyle='#111';ctx.fillText(String(t),bx+29.8,py);
      });
      ctx.restore();
    }
  };
  new Chart(document.getElementById(id),{
    type:'scatter',data:{datasets},
    options:Object.assign(baseOpts(),{layout:{padding:{top:d.pad.top,right:93.7,left:0,bottom:0}},
      scales:{x:axisCfg(d.xr[0],d.xr[1],d.xt,1,v=>String(v),d.xFit,true),
              y:axisCfg(d.yr[0],d.yr[1],d.yt,0.5,v=>v.toFixed(1),92.4,false)}}),
    plugins:[plug]
  });
}
biplotChart('cD1',{ind:d1Ind,X:d1IndX,Y:d1IndY,contrib:d1Contrib,ILX:d1IndLabX,ILY:d1IndLabY,iseg:d1IndSeg,
  vars:d1Var,vx:d1VarX,vy:d1VarY,VLX:d1VarLabX,VLY:d1VarLabY,range:d1ContribRange,cticks:d1ContribTicks,
  xr:[-1.66,3.135],yr:[-1.184,0.682],xt:d1XTicks,yt:d1YTicks,pad:{top:43.3},xFit:47.6,
  xTitle:'Dim1 (84.9%)',yTitle:'Dim2 (8.9%)'});
biplotChart('cD2',{ind:d2Ind,X:d2IndX,Y:d2IndY,contrib:d2Contrib,ILX:d2IndLabX,ILY:d2IndLabY,iseg:d2IndSeg,
  vars:d2Var,vx:d2VarX,vy:d2VarY,VLX:d2VarLabX,VLY:d2VarLabY,range:d2ContribRange,cticks:d2ContribTicks,
  xr:[-1.664,2.863],yr:[-0.727,1.244],xt:d2XTicks,yt:d2YTicks,pad:{top:37.1},xFit:72.8,
  xTitle:'Dim1 (85%)',yTitle:'Dim2 (9.6%)'});
</script>
</body></html>
